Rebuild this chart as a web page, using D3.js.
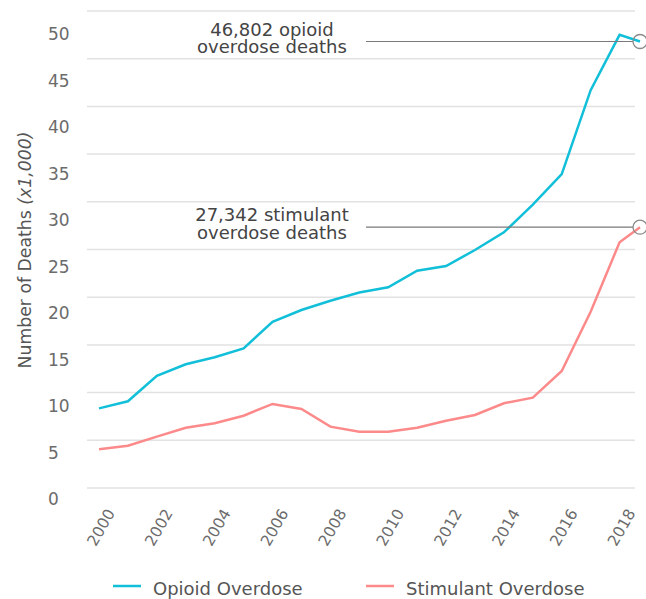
<!DOCTYPE html>
<html>
<head>
<meta charset="utf-8">
<script src="https://cdn.jsdelivr.net/npm/d3@7"></script>
<style>
  html, body { margin: 0; padding: 0; background: #fff; }
  svg { display: block; font-family: "DejaVu Sans", "Noto Sans", sans-serif; }
</style>
</head>
<body>
<svg id="chart" width="646" height="599"></svg>
<script>
// Overdose deaths in thousands, by year
const years = d3.range(2000, 2019);
const opioid = [8.35, 9.09, 11.77, 12.97, 13.7, 14.64, 17.43, 18.66, 19.63, 20.5,
                21.04, 22.78, 23.27, 24.95, 26.8, 29.7, 32.9, 41.7, 47.5];
const stimulant = [4.06, 4.43, 5.38, 6.32, 6.78, 7.58, 8.81, 8.28, 6.43, 5.9,
                   5.9, 6.32, 7.05, 7.65, 8.88, 9.47, 12.26, 18.48, 25.75];
// Latest totals called out at the right edge
const latestOpioid = 46.802;
const latestStimulant = 27.342;
const yTicks = [0, 5, 10, 15, 20, 25, 30, 35, 40, 45, 50];
const xTickYears = [2000, 2002, 2004, 2006, 2008, 2010, 2012, 2014, 2016, 2018];
const seriesNames = ["Opioid Overdose", "Stimulant Overdose"];
const seriesColors = ["#12bfd9", "#fc8a8a"];

const svg = d3.select("#chart");
const gridLeft = 87, gridRight = 635;
const markerX = 640;

const x = d3.scaleBand().domain(years).range([99, 648.5]);
const y = d3.scaleLinear().domain([0, 50]).range([488, 11]);
// tick labels sit on their own slightly tighter spacing
const yLabel = d3.scaleLinear().domain([0, 50]).range([499, 34]);

// horizontal grid
svg.append("g").selectAll("line").data(yTicks).join("line")
  .attr("x1", gridLeft).attr("x2", gridRight)
  .attr("y1", d => y(d)).attr("y2", d => y(d))
  .attr("stroke", "#e2e2e2").attr("stroke-width", 1.5);

// y tick labels
svg.append("g").selectAll("text").data(yTicks).join("text")
  .attr("x", 48).attr("y", d => yLabel(d))
  .attr("dy", "0.36em")
  .attr("font-size", 17).attr("fill", "#6b6b6b")
  .text(d => d);

// y axis title
const yTitle = svg.append("text")
  .attr("transform", "translate(31,250) rotate(-90)")
  .attr("text-anchor", "middle")
  .attr("font-size", 17.3).attr("fill", "#555");
yTitle.append("tspan").text("Number of Deaths ");
yTitle.append("tspan").attr("font-style", "italic").text("(x1,000)");

// x tick labels at band centres
svg.append("g").selectAll("text").data(xTickYears).join("text")
  .attr("transform", d => `translate(${x(d) + x.bandwidth() / 2 + 2},513) rotate(-60)`)
  .attr("text-anchor", "end")
  .attr("font-size", 15.5).attr("fill", "#6b6b6b")
  .text(d => d);

// series lines, each finishing at its latest total at the right edge
const line = d3.line().x(d => d[0]).y(d => y(d[1]));
const seriesData = [
  years.map((yr, i) => [x(yr), opioid[i]]).concat([[markerX, latestOpioid]]),
  years.map((yr, i) => [x(yr), stimulant[i]]).concat([[markerX, latestStimulant]])
];
svg.append("g").selectAll("path").data(seriesData).join("path")
  .attr("d", line)
  .attr("fill", "none")
  .attr("stroke", (d, i) => seriesColors[i])
  .attr("stroke-width", 2.5)
  .attr("stroke-linejoin", "miter");

// callouts
const callouts = [
  { value: latestOpioid, lines: [d3.format(",")(Math.round(latestOpioid * 1000)) + " opioid", "overdose deaths"] },
  { value: latestStimulant, lines: [d3.format(",")(Math.round(latestStimulant * 1000)) + " stimulant", "overdose deaths"] }
];
const cg = svg.append("g").selectAll("g").data(callouts).join("g");
cg.append("line")
  .attr("x1", 366).attr("x2", markerX - 7)
  .attr("y1", d => y(d.value)).attr("y2", d => y(d.value))
  .attr("stroke", "#7a7a7a").attr("stroke-width", 1.2);
cg.append("circle")
  .attr("cx", markerX).attr("cy", d => y(d.value)).attr("r", 7)
  .attr("fill", "none").attr("stroke", "#8a8a8a").attr("stroke-width", 1.3);
cg.each(function(d) {
  const t = d3.select(this).append("text")
    .attr("text-anchor", "middle")
    .attr("font-size", 18).attr("fill", "#444");
  d.lines.forEach((s, i) => {
    t.append("tspan").attr("x", 272)
      .attr("y", y(d.value) - 6 + i * 17.5)
      .text(s);
  });
});

// legend
const lg = svg.append("g").selectAll("g").data(seriesNames).join("g")
  .attr("transform", (d, i) => `translate(${i === 0 ? 113 : 366},0)`);
lg.append("line")
  .attr("x1", 0).attr("x2", 28).attr("y1", 586).attr("y2", 586)
  .attr("stroke", (d, i) => seriesColors[i]).attr("stroke-width", 2.5);
lg.append("text")
  .attr("x", 40).attr("y", 595)
  .attr("font-size", 18).attr("fill", "#555")
  .text(d => d);
</script>
</body>
</html>
